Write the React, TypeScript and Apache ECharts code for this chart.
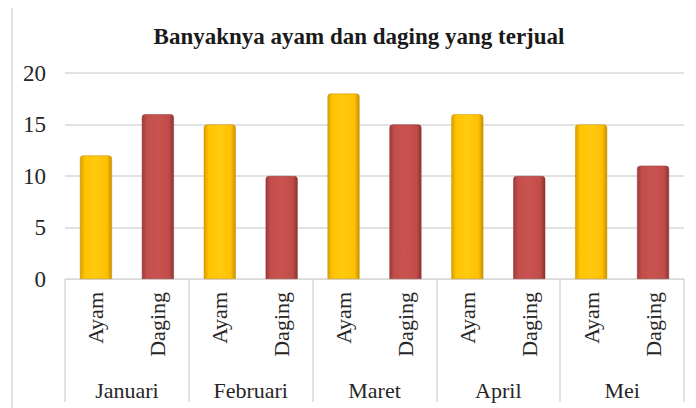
import React, { useEffect, useRef } from "react";
import * as echarts from "echarts";

const months = ["Januari", "Februari", "Maret", "April", "Mei"];
const subLabels = ["Ayam", "Daging"];
const ayam = [12, 15, 18, 16, 15];
const daging = [16, 10, 15, 10, 11];
const yTicks = [0, 5, 10, 15, 20];

const FONT = "'Liberation Serif', 'Times New Roman', serif";

const yellowGrad = new echarts.graphic.LinearGradient(0, 0, 1, 0, [
  { offset: 0, color: "#D9A000" },
  { offset: 0.15, color: "#FFC400" },
  { offset: 0.5, color: "#FFCA10" },
  { offset: 0.85, color: "#FFC000" },
  { offset: 1, color: "#C89200" },
]);
const redGrad = new echarts.graphic.LinearGradient(0, 0, 1, 0, [
  { offset: 0, color: "#9E3A38" },
  { offset: 0.15, color: "#C24F4C" },
  { offset: 0.5, color: "#C9534F" },
  { offset: 0.85, color: "#C04C49" },
  { offset: 1, color: "#8E3331" },
]);

export default function App() {
  const ref = useRef<HTMLDivElement>(null);
  useEffect(() => {
    if (!ref.current) return;
    const chart = echarts.init(ref.current, null, { renderer: "svg" });
    const subCats: string[] = [];
    const data: any[] = [];
    months.forEach((m, i) => {
      subCats.push(subLabels[0], subLabels[1]);
      data.push({ value: ayam[i], itemStyle: { color: yellowGrad, borderColor: "#C89200", borderWidth: 0.5, borderRadius: [3, 3, 0, 0] } });
      data.push({ value: daging[i], itemStyle: { color: redGrad, borderColor: "#8E3331", borderWidth: 0.5, borderRadius: [3, 3, 0, 0] } });
    });
    chart.setOption({
      animation: false,
      backgroundColor: "#ffffff",
      title: {
        text: "Banyaknya ayam dan daging yang terjual",
        left: 354,
        textAlign: "center",
        top: 20,
        textStyle: { fontFamily: FONT, fontWeight: "bold", fontSize: 23, color: "#1a1a1a" },
      },
      graphic: [
        { type: "line", shape: { x1: 12, y1: 8, x2: 12, y2: 408 }, style: { stroke: "#d9d9d9", lineWidth: 1.5 } },
      ],
      grid: { left: 65, right: 12, top: 73, bottom: 129, containLabel: false },
      xAxis: [
        {
          type: "category",
          data: subCats,
          position: "bottom",
          axisLine: { show: true, lineStyle: { color: "#d9d9d9", width: 1 } },
          axisTick: { show: false },
          axisLabel: {
            interval: 0,
            rotate: 90,
            margin: 13,
            fontFamily: FONT,
            fontSize: 22,
            color: "#262626",
          },
        },
        {
          type: "category",
          data: months,
          position: "bottom",
          offset: 0,
          axisLine: { show: false },
          axisTick: { show: true, length: 123, interval: 0, lineStyle: { color: "#d9d9d9", width: 1.5 } },
          axisLabel: {
            interval: 0,
            margin: 100,
            fontFamily: FONT,
            fontSize: 22,
            color: "#262626",
          },
        },
      ],
      yAxis: {
        type: "value",
        min: yTicks[0],
        max: yTicks[yTicks.length - 1],
        interval: 5,
        axisLine: { show: false },
        axisTick: { show: false },
        axisLabel: { margin: 19, fontFamily: FONT, fontSize: 23, color: "#262626" },
        splitLine: { lineStyle: { color: "#d9d9d9", width: 1.5 } },
      },
      series: [
        {
          type: "bar",
          xAxisIndex: 0,
          barWidth: 32,
          data,
        },
      ],
    });
    return () => chart.dispose();
  }, []);
  return <div ref={ref} style={{ width: 696, height: 408, position: "absolute", left: 0, top: 0 }} />;
}
